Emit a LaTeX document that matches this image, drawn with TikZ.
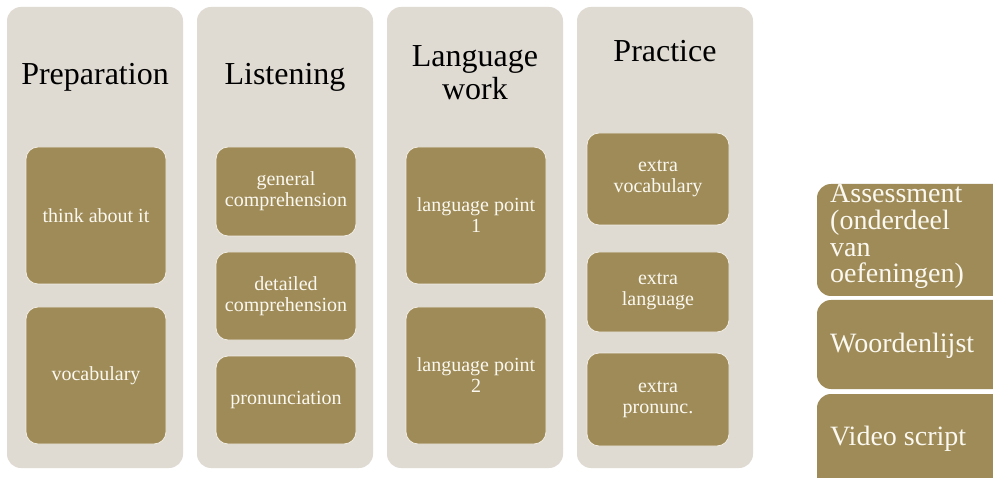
\documentclass[tikz,border=0pt]{standalone}
\usepackage{fontspec}
\setmainfont{Liberation Serif}
\definecolor{colbg}{HTML}{DFDBD3}
\definecolor{boxfill}{HTML}{9E8B58}
\definecolor{boxline}{HTML}{F1EDE5}
\definecolor{boxtext}{HTML}{FBF8F0}
\begin{document}
\begin{tikzpicture}[x=1pt,y=-1pt,
  column/.style={fill=colbg, draw=none, rounded corners=14pt, inner sep=0pt},
  title/.style={font=\fontsize{32}{33}\selectfont, text=black, align=center, anchor=base, inner sep=0pt},
  item/.style={fill=boxfill, draw=boxline, line width=0.8pt, rounded corners=12pt, text=boxtext, align=center, font=\fontsize{20}{21}\selectfont, inner sep=0pt, minimum width=140pt},
  side/.style={fill=boxfill, draw=none, rounded corners=14pt, inner sep=0pt, minimum width=193pt},
  sidetext/.style={text=boxtext, align=left, anchor=base west, font=\fontsize{28}{26.7}\selectfont, inner sep=0pt}]
\useasboundingbox (0,0) rectangle (993,478);
\clip (0,0) rectangle (993,478);
\fill[white] (0,0) rectangle (993,478);
% columns
\node[column, minimum width=176pt, minimum height=461pt] (c1) at (95,237.5) {};
\node[column, minimum width=176pt, minimum height=461pt] (c2) at (285,237.5) {};
\node[column, minimum width=176pt, minimum height=461pt] (c3) at (475,237.5) {};
\node[column, minimum width=176pt, minimum height=461pt] (c4) at (665,237.5) {};
% titles
\node[title] (t1) at (95,85) {Preparation};
\node[title] (t2) at (285,85) {Listening};
\node[title] (t3) at (475,100) {Language\\work};
\node[title] (t4) at (665,62) {Practice};
% column 1
\node[item, minimum height=137pt] (a1) at (96,215.5) {think about it};
\node[item, minimum height=137pt] (a2) at (96,375.5) {vocabulary};
% column 2
\node[item, minimum height=89pt] (b1) at (286,191.5) {general\\comprehension};
\node[item, minimum height=88pt] (b2) at (286,296) {detailed\\comprehension};
\node[item, minimum height=88pt] (b3) at (286,400) {pronunciation};
% column 3
\node[item, minimum height=137pt] (d1) at (476,215.5) {language point\\1};
\node[item, minimum height=137pt] (d2) at (476,375.5) {language point\\2};
% column 4
\node[item, minimum width=142pt, minimum height=92pt] (e1) at (658,179) {extra\\vocabulary};
\node[item, minimum width=142pt, minimum height=80pt] (e2) at (658,292) {extra\\language};
\node[item, minimum width=142pt, minimum height=93pt] (e3) at (658,399.5) {extra\\pronunc.};
% side boxes
\node[side, minimum height=112pt] (s1) at (913.5,240) {};
\node[side, minimum height=89pt] (s2) at (913.5,344.5) {};
\node[side, minimum height=106pt] (s3) at (913.5,447) {};
\node[sidetext] (st1) at (830,283) {Assessment\\(onderdeel\\van\\oefeningen)};
\node[sidetext] (st2) at (830,352) {Woordenlijst};
\node[sidetext] (st3) at (830,445) {Video script};
\end{tikzpicture}
\end{document}
